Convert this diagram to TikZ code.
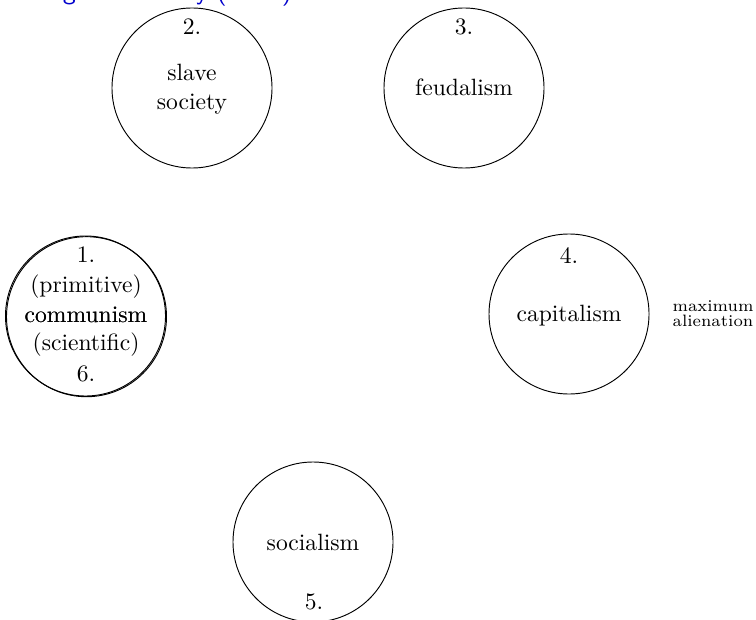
\documentclass[tikz,border=0pt]{standalone}
\begin{document}
\begin{tikzpicture}[x=0.4243pt, y=-0.4243pt,
  stage/.style={circle, draw, line width=0.4pt, inner sep=0pt, minimum size=67.9pt},
  lbl/.style={inner sep=0pt, anchor=base, font=\fontsize{10}{12}\selectfont},
  note/.style={inner sep=0pt, anchor=base, font=\fontsize{7}{8}\selectfont},
  heading/.style={inner sep=0pt, anchor=base west, text=blue!80!black,
                  font=\sffamily\fontsize{11.3}{13}\selectfont}]
\useasboundingbox (0,0) rectangle (756,619);

% heading (sits above the page edge)
\node[heading] (title) at (26,-0.5) {Stages of history (Marx)};

% the stages
\node[stage] (s1) at (85.5,316) {};
\node[stage] (s6) at (86.5,316.7) {};
\node[stage] (s2) at (192,88) {};
\node[stage] (s3) at (464,88) {};
\node[stage] (s4) at (569,314) {};
\node[stage] (s5) at (313,542) {};

% 1. / 6. communism
\node[lbl] (t1)  at (86,262) {1.};
\node[lbl] (t1a) at (86,292) {(primitive)};
\node[lbl] (t1b) at (86,322) {communism};
\node[lbl] (t6b) at (86,322) {communism};
\node[lbl] (t6a) at (86,350) {(scientific)};
\node[lbl] (t6)  at (86,381) {6.};

% 2. slave society
\node[lbl] (t2)  at (192,35) {2.};
\node[lbl] (t2a) at (192,81) {slave};
\node[lbl] (t2b) at (192,109) {society};

% 3. feudalism
\node[lbl] (t3)  at (464,35) {3.};
\node[lbl] (t3a) at (464,96) {feudalism};

% 4. capitalism
\node[lbl] (t4)  at (569,263) {4.};
\node[lbl] (t4a) at (569,321) {capitalism};
\node[note] (m1) at (713,311) {maximum};
\node[note] (m2) at (713,326) {alienation};

% 5. socialism
\node[lbl] (t5a) at (313,550) {socialism};
\node[lbl] (t5)  at (314,609) {5.};
\end{tikzpicture}
\end{document}
